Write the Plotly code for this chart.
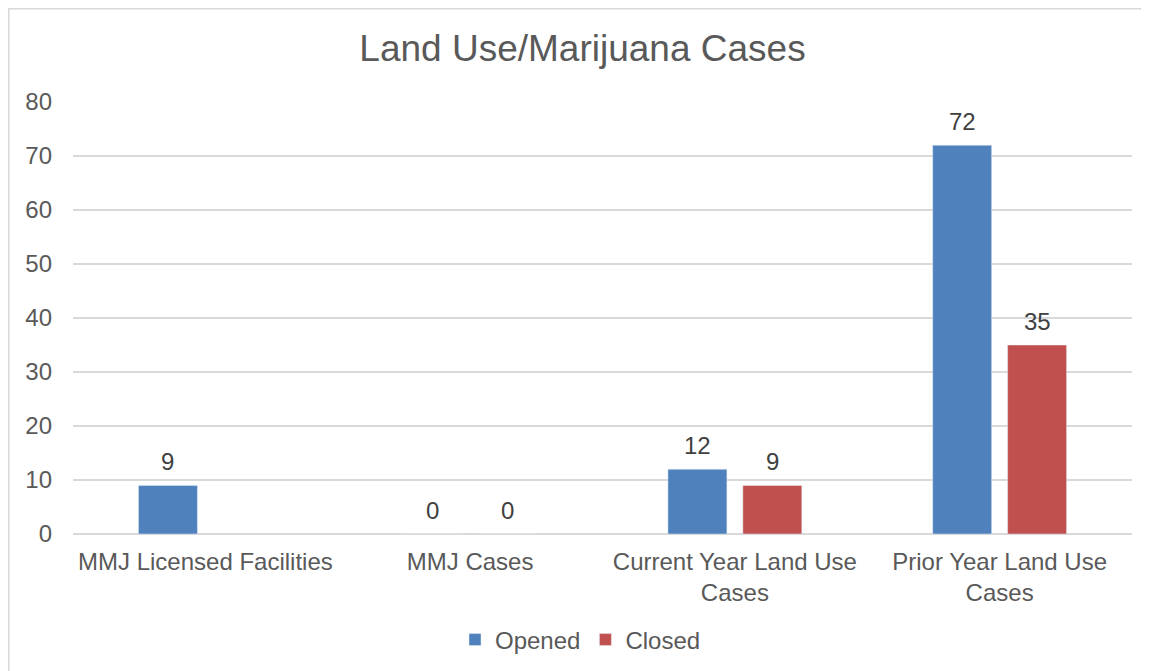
import plotly.graph_objects as go

categories = ["MMJ Licensed Facilities", "MMJ Cases", "Current Year Land Use<br>Cases", "Prior Year Land Use<br>Cases"]
opened = [9, 0, 12, 72]
closed = [None, 0, 9, 35]
y_ticks = [0, 10, 20, 30, 40, 50, 60, 70, 80]

TEXT = "#595959"
FONT = "Liberation Sans, Arial, sans-serif"
W, H = 1149, 671
L, T, PW, PH = 65, 94, 1059, 432

fig = go.Figure()
fig.add_trace(go.Bar(name="Opened", x=categories, y=opened, marker_color="#4F81BD"))
fig.add_trace(go.Bar(name="Closed", x=categories, y=closed, marker_color="#C0504D"))

# data labels above each bar, offset to the bar's slot within its group
slot = PW / len(categories) * (1 - 0.434) / 2
annotations = []
for vals, dx in ((opened, -slot / 2), (closed, slot / 2)):
    for c, v in zip(categories, vals):
        if v is None:
            continue
        annotations.append(dict(x=c, y=v, xref="x", yref="y", text=str(v), showarrow=False,
                                xshift=dx, yshift=24, yanchor="middle",
                                font=dict(size=24, color="#404040", family=FONT)))

fig.update_layout(
    width=W, height=H,
    margin=dict(l=L, r=W - L - PW, t=T, b=H - T - PH),
    paper_bgcolor="white", plot_bgcolor="white",
    font=dict(family=FONT, size=24, color=TEXT),
    title=dict(text="Land Use/Marijuana Cases", x=0.5, xanchor="center",
               y=1 - 40 / H, yanchor="middle", yref="container",
               font=dict(size=37, color=TEXT, family=FONT)),
    barmode="group", bargap=0.434, bargroupgap=0.213,
    showlegend=True,
    legend=dict(orientation="h", x=0.5 - 22 / PW, xanchor="center", y=-(632 - 526) / PH, yanchor="middle",
                font=dict(size=24, color=TEXT, family=FONT), traceorder="normal"),
    xaxis=dict(showgrid=False, showline=False, ticks="", tickfont=dict(size=24, color=TEXT),
               ticklabelstandoff=11),
    yaxis=dict(range=[0, 80], tickvals=y_ticks, showgrid=True, gridcolor="#D9D9D9", gridwidth=1.5,
               zeroline=True, zerolinecolor="#D9D9D9", zerolinewidth=1.5, showline=False,
               tickfont=dict(size=24, color=TEXT), ticklabelstandoff=20),
    annotations=annotations,
    shapes=[dict(type="rect", xref="paper", yref="paper",
                 x0=(0.8 - L) / PW, x1=1.2, y0=-1.0, y1=(T - 0.8) / PH + 1,
                 line=dict(color="#D9D9D9", width=1.5), fillcolor="rgba(0,0,0,0)", layer="below")],
)

fig.write_html("out.html")
